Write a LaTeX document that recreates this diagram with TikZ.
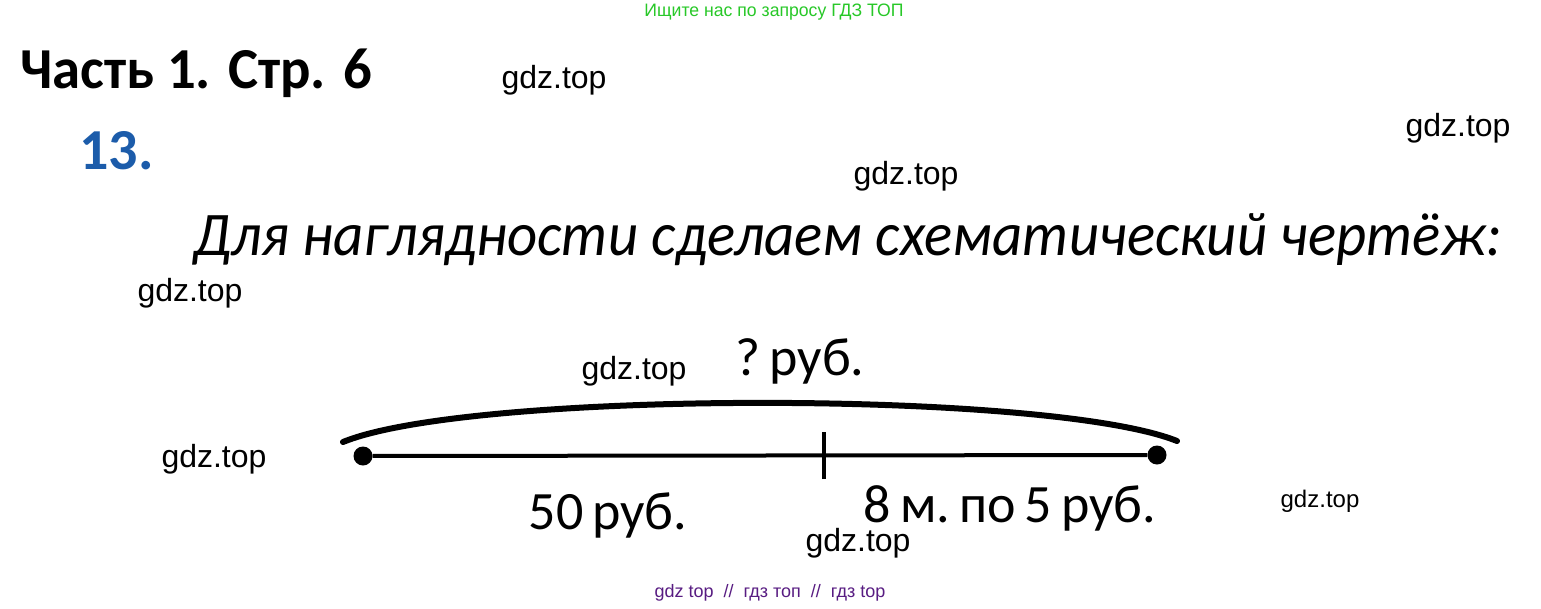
\documentclass[tikz,border=0pt]{standalone}
\usepackage{fontspec}
\setmainfont{Carlito}
\newfontfamily\wmfont{Liberation Sans}
\usetikzlibrary{positioning}
\definecolor{gdzgreen}{RGB}{40,200,40}
\definecolor{numblue}{RGB}{28,92,170}
\definecolor{gdzpurple}{RGB}{88,28,130}
\tikzset{wmark/.style={font=\wmfont\fontsize{32}{32}\selectfont},
    lbl/.style={font=\fontsize{54}{54}\selectfont, inner sep=0pt, anchor=base},
    pt/.style={circle, fill=black, inner sep=0pt, minimum size=19pt}
}

\begin{document}
\begin{tikzpicture}[x=1pt,y=-1pt]
      \useasboundingbox[fill=white] (0,0) rectangle (1541,608);
      \node[font=\wmfont\fontsize{18}{18}\selectfont,gdzgreen] (ad) at (774,12) {\scalebox{0.98}[1]{Ищите нас по запросу ГДЗ ТОП}};
      \node[font=\bfseries\fontsize{58}{58}\selectfont,anchor=base west,inner sep=0pt] (title) at (20,88) {\scalebox{0.978}[1]{Часть 1. Стр. 6}};
      \node[font=\bfseries\fontsize{58}{58}\selectfont,numblue,anchor=base west,inner sep=0pt] (num) at (79,169) {13.};
      \node[font=\itshape\fontsize{62}{62}\selectfont,anchor=base west,inner sep=0pt] (intro) at (193,255) {\scalebox{0.948}[1]{Для наглядности сделаем схематический чертёж:}};
      % segment
      \node[pt] (a) at (363,456) {};
      \node[pt] (b) at (1157,455) {};
      \coordinate (m) at (824,455);
      \draw[line width=4pt] (a) -- (b);
      \draw[line width=3.5pt] ([yshift=-24]m) -- ([yshift=23]m);
      \coordinate (arcL) at (343,442);
      \coordinate (arcR) at (1177,441);
      \draw[line width=6pt,line cap=round] (arcL) .. controls (470,390) and (1050,390) .. (arcR);
      \node[lbl] (whole) at (800,375) {?\,руб.};
      \node[lbl] (left) at (608,529) {50\,руб.};
      \node[lbl] (right) at (1010,522) {8\,м.\,по\,5\,руб.};
      % watermarks
      \node[wmark] (w1) at (554,80) {gdz.top};
      \node[wmark] (w2) at (1458,128) {gdz.top};
      \node[wmark] (w3) at (906,176) {gdz.top};
      \node[wmark] (w4) at (190,293) {gdz.top};
      \node[wmark] (w5) at (634,371) {gdz.top};
      \node[wmark] (w6) at (214,459) {gdz.top};
      \node[wmark,font=\wmfont\fontsize{24}{24}\selectfont] (w7) at (1320,501) {gdz.top};
      \node[wmark] (w8) at (858,543) {gdz.top};
      \node[font=\wmfont\fontsize{18}{18}\selectfont,gdzpurple] (foot) at (770,593) {gdz top \ // \ гдз топ \ // \ гдз top};
\end{tikzpicture}
\end{document}
